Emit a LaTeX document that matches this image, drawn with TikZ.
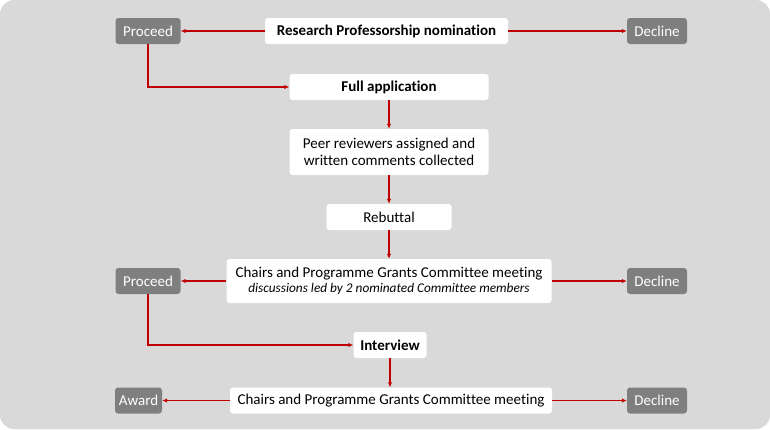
\documentclass[tikz,border=0pt]{standalone}
\usepackage{fontspec}
\setmainfont{Carlito}[Ligatures={NoCommon}]
\usetikzlibrary{arrows.meta}
\definecolor{bg}{HTML}{D9D9D9}
\definecolor{graybox}{HTML}{7F7F7F}
\definecolor{arr}{HTML}{C00000}
\begin{document}
\begin{tikzpicture}[x=1pt,y=-1pt,
  wbox/.style={draw=none,fill=white,rounded corners=3pt,inner sep=0pt,align=center,font=\fontsize{15}{17}\selectfont},
  gbox/.style={draw=none,fill=graybox,rounded corners=3pt,inner sep=0pt,text=white,align=center,font=\fontsize{15}{17}\selectfont},
  bfont/.style={font=\bfseries\fontsize{15}{17}\selectfont},
  conn/.style={draw=arr,line width=1.6pt,-{Latex[length=5pt,width=4.5pt]}}]
\useasboundingbox (0,0) rectangle (770,429);
\fill[bg,rounded corners=14pt] (0,0) rectangle (770,429);
% nodes
\node[gbox,minimum width=65pt,minimum height=26pt] (p1) at (148,31) {Proceed};
\node[wbox,bfont,minimum width=243pt,minimum height=26pt] (rp) at (386.5,31) {Research Professorship nomination};
\node[gbox,minimum width=60pt,minimum height=26pt] (d1) at (657,31) {Decline};
\node[wbox,bfont,minimum width=199pt,minimum height=26pt] (fa) at (389,87) {Full application};
\node[wbox,minimum width=199pt,minimum height=46pt] (pr) at (389,152) {Peer reviewers assigned and\\written comments collected};
\node[wbox,minimum width=125pt,minimum height=26pt] (rb) at (389,217) {Rebuttal};
\node[wbox,minimum width=325pt,minimum height=44pt] (c1) at (389,281) {Chairs and Programme Grants Committee meeting\\[-2pt]{\itshape\fontsize{13.3}{15}\selectfont discussions led by 2 nominated Committee members}};
\node[gbox,minimum width=65pt,minimum height=26pt] (p2) at (148,281) {Proceed};
\node[gbox,minimum width=60pt,minimum height=26pt] (d2) at (657,281) {Decline};
\node[wbox,bfont,minimum width=73pt,minimum height=26pt] (iv) at (390,345) {Interview};
\node[wbox,minimum width=322pt,minimum height=26pt] (c2) at (391,400.5) {Chairs and Programme Grants Committee meeting};
\node[gbox,minimum width=47pt,minimum height=26pt] (aw) at (138.5,400.5) {Award};
\node[gbox,minimum width=60pt,minimum height=26pt] (d3) at (657,400.5) {Decline};
% connectors
\draw[conn] (rp) -- (p1);
\draw[conn] (rp) -- (d1);
\draw[conn] (p1.south) |- (fa.west);
\draw[conn] (fa) -- (pr);
\draw[conn] (pr) -- (rb);
\draw[conn] (rb) -- (c1);
\draw[conn] (c1) -- (p2);
\draw[conn] (c1) -- (d2);
\draw[conn] (p2.south) |- (iv.west);
\draw[conn] (iv.south) -- (iv.south |- c2.north);
\draw[conn] (c2) -- (aw);
\draw[conn] (c2) -- (d3);
\end{tikzpicture}
\end{document}
